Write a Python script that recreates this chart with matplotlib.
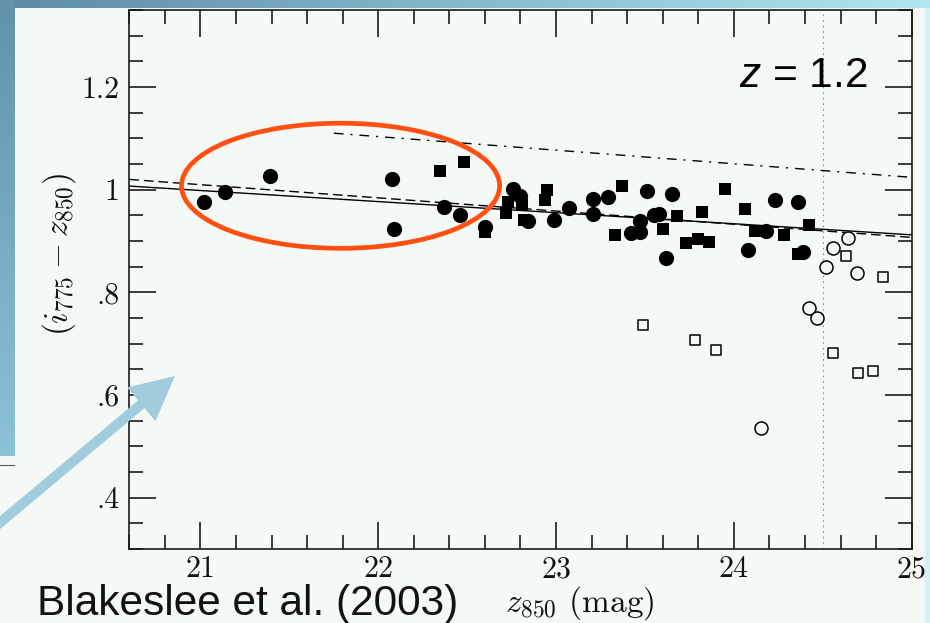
import numpy as np
import matplotlib
matplotlib.use('Agg')
import matplotlib.pyplot as plt
from matplotlib.patches import Ellipse, FancyArrow, Rectangle
from matplotlib.ticker import MultipleLocator

plt.rcParams['mathtext.fontset'] = 'custom'
plt.rcParams['mathtext.it'] = 'Liberation Sans:italic'
plt.rcParams['mathtext.rm'] = 'Liberation Sans'

# ---------------- data ----------------
filled_circle_x = [21.02, 21.14, 21.39, 22.08, 22.09, 22.37, 22.46, 22.60, 22.76, 22.80,
                   22.84, 22.99, 23.07, 23.21, 23.21, 23.29, 23.51, 23.65, 23.47, 23.42,
                   23.47, 23.55, 23.58, 23.62, 24.23, 24.36, 24.18, 24.08, 24.39]
filled_circle_y = [0.976, 0.995, 1.026, 1.021, 0.924, 0.966, 0.951, 0.928, 1.001, 0.987,
                   0.938, 0.940, 0.964, 0.982, 0.953, 0.986, 0.997, 0.991, 0.939, 0.915,
                   0.917, 0.951, 0.952, 0.867, 0.979, 0.976, 0.920, 0.883, 0.878]

filled_square_x = [22.35, 22.48, 22.60, 22.73, 22.72, 22.81, 22.82, 22.95, 22.94, 23.37,
                   23.95, 23.33, 23.68, 23.60, 23.82, 23.73, 23.80, 23.86, 24.06, 24.12,
                   24.28, 24.42, 24.36]
filled_square_y = [1.037, 1.054, 0.917, 0.975, 0.954, 0.971, 0.941, 1.000, 0.979, 1.008,
                   1.002, 0.911, 0.949, 0.924, 0.957, 0.896, 0.904, 0.899, 0.962, 0.920,
                   0.911, 0.931, 0.875]

open_circle_x = [24.64, 24.56, 24.52, 24.69, 24.42, 24.47, 24.15]
open_circle_y = [0.906, 0.887, 0.850, 0.837, 0.770, 0.750, 0.535]

open_square_x = [24.63, 24.84, 23.49, 23.78, 23.90, 24.56, 24.70, 24.78]
open_square_y = [0.870, 0.829, 0.737, 0.707, 0.687, 0.681, 0.642, 0.646]

solid_fit_x = [20.6, 25.0]
solid_fit_y = [1.007, 0.912]
dashed_fit_x = [20.6, 25.0]
dashed_fit_y = [1.020, 0.907]
dashdot_fit_x = [21.75, 25.0]
dashdot_fit_y = [1.110, 1.024]
mag_limit = 24.5

x_ticks = [21, 22, 23, 24, 25]
x_tick_labels = ['21', '22', '23', '24', '25']
y_ticks = [0.4, 0.6, 0.8, 1.0, 1.2]
y_tick_labels = ['.4', '.6', '.8', '1', '1.2']

# ---------------- figure ----------------
W, H = 930, 623
panel = '#f4f9f6'
fig = plt.figure(figsize=(9.3, 6.23), dpi=100)

bg = fig.add_axes([0, 0, 1, 1], zorder=0)
bg.axis('off')
bg.add_patch(Rectangle((0, 0), W, H, color=panel, zorder=0))
g = np.linspace(0, 1, 256)
c0 = np.array([92, 140, 166]) / 255
c1 = np.array([178, 230, 242]) / 255
top_img = c0[None, None, :] * (1 - g[None, :, None]) + c1[None, None, :] * g[None, :, None]
bg.imshow(top_img, extent=(0, W, 8, 0), aspect='auto', zorder=1, interpolation='bilinear')
l0 = np.array([98, 146, 172]) / 255
l1 = np.array([140, 194, 214]) / 255
left_img = l0[None, None, :] * (1 - g[:, None, None]) + l1[None, None, :] * g[:, None, None]
bg.imshow(left_img, extent=(0, 14, 456, 0), aspect='auto', zorder=1, interpolation='bilinear')
bg.plot([0, 14], [465, 465], color='#555555', lw=0.8, zorder=2)
bg.add_patch(Rectangle((925, 8), 5, H, color='#d6f1f6', zorder=1))
bg.set_xlim(0, W)
bg.set_ylim(H, 0)

# main axes
ax = fig.add_axes([0.13903, 0.11878, 0.84129, 0.86517], zorder=1)
ax.set_facecolor('none')
ax.set_xlim(20.6, 25.0)
ax.set_ylim(0.3, 1.35)

ax.plot(solid_fit_x, solid_fit_y, color='k', lw=1.0, zorder=2)
ax.plot(dashed_fit_x, dashed_fit_y, color='k', lw=1.0, dashes=(7, 3.5), zorder=2)
ax.plot(dashdot_fit_x, dashdot_fit_y, color='k', lw=1.0, dashes=(7, 5, 1.5, 5), zorder=2)
ax.axvline(mag_limit, color='#8a8a8a', lw=0.8, dashes=(1.5, 3.5), zorder=1)

ax.scatter(filled_circle_x, filled_circle_y, s=120, marker='o', color='k', zorder=3, linewidths=0)
ax.scatter(filled_square_x, filled_square_y, s=63, marker='s', color='k', zorder=3, linewidths=0)
ax.scatter(open_circle_x, open_circle_y, s=88, marker='o', facecolors=panel,
           edgecolors='k', linewidths=1.1, zorder=3)
ax.scatter(open_square_x, open_square_y, s=52, marker='s', facecolors=panel,
           edgecolors='k', linewidths=1.1, zorder=3)

ax.set_xticks(x_ticks)
ax.set_xticklabels(x_tick_labels)
ax.set_yticks(y_ticks)
ax.set_yticklabels(y_tick_labels)
ax.xaxis.set_minor_locator(MultipleLocator(0.2))
ax.yaxis.set_minor_locator(MultipleLocator(0.05))
ax.tick_params(which='both', direction='in', top=True, right=True, width=1.2, color='#1a1a1a')
ax.tick_params(which='major', length=19.5)
ax.tick_params(which='minor', length=10)
ax.tick_params(axis='x', pad=5)
ax.tick_params(axis='y', pad=7)
for lbl in ax.get_xticklabels() + ax.get_yticklabels():
    lbl.set_fontfamily('cmr10')
    lbl.set_fontsize(21.5)
    lbl.set_color('#111111')
for sp in ax.spines.values():
    sp.set_linewidth(1.2)
    sp.set_color('#1a1a1a')

ax.set_ylabel(r'$(i_{775}-z_{850})$', fontsize=24, math_fontfamily='cm', color='#111111')
ax.yaxis.set_label_coords(-0.0656, 0.547)
ax.set_xlabel(r'$z_{850}$ (mag)', fontsize=24, fontfamily='cmr10', math_fontfamily='cm',
              color='#111111')
ax.xaxis.set_label_coords(0.576, -0.066)

ax.text(24.03, 1.2, r'$z$ = 1.2', fontsize=30.5, fontfamily='Liberation Sans',
        math_fontfamily='custom', va='baseline', ha='left', zorder=5)

# highlight ellipse
ax.add_patch(Ellipse((21.788, 1.0076), width=1.789, height=0.2437, fill=False,
                     edgecolor='#ff5012', lw=3.4, clip_on=False, zorder=10))

# foreground overlay (arrow + caption)
fg = fig.add_axes([0, 0, 1, 1], zorder=3)
fg.set_facecolor('none')
fg.axis('off')
fg.set_xlim(0, W)
fg.set_ylim(H, 0)
fg.add_patch(FancyArrow(-10, 531, 185, -155, width=10, head_width=44, head_length=44,
                        length_includes_head=True, color='#a0ccde', lw=0))
fg.text(36.7, 615, 'Blakeslee et al. (2003)', fontsize=30.5, fontfamily='Liberation Sans',
        va='baseline', ha='left', color='#111111')

fig.savefig('out.png', dpi=100)
